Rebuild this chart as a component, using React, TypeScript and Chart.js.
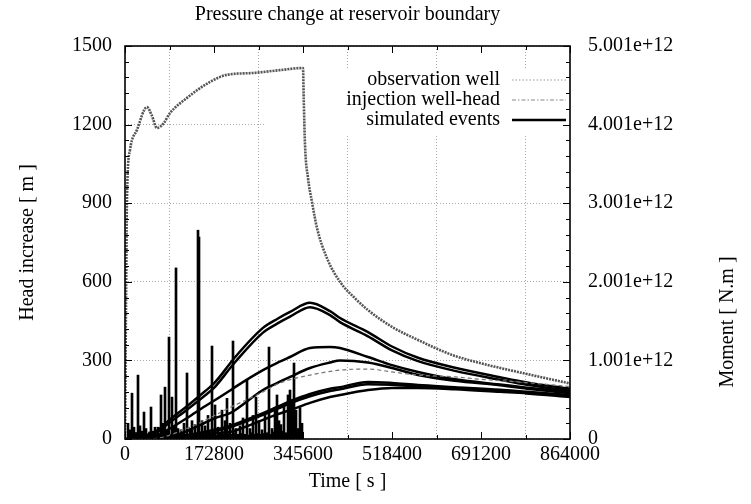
import React, { useEffect, useRef } from "react";
import { Chart, registerables } from "chart.js";

Chart.register(...registerables);

const TITLE = "Pressure change at reservoir boundary";
const X_TITLE = "Time [ s ]";
const Y_TITLE = "Head increase [ m ]";
const Y2_TITLE = "Moment [ N.m ]";

const LEGEND_OBS = "observation well";
const LEGEND_WELL = "injection well-head";
const LEGEND_EVENTS = "simulated events";

const timeTicks = [0, 172800, 345600, 518400, 691200, 864000];
const headTicks = [0, 300, 600, 900, 1200, 1500];
const momentTicks = [0, 1.001e12, 2.001e12, 3.001e12, 4.001e12, 5.001e12];
const momentTickLabels = ["0", "1.001e+12", "2.001e+12", "3.001e+12", "4.001e+12", "5.001e+12"];

// injection well-head (head, m)
const wellHeadTime = [0, 1900, 3900, 9700, 23300, 42700, 52000, 62100, 75000, 87400, 120400, 165000, 198000, 248500, 300900, 345600, 347000, 349500, 355300, 363000, 372800, 392200, 417400, 446600, 471800, 518400, 568900, 634900, 689300, 780500, 864000];
const wellHeadHead = [0, 500, 924, 1103, 1180, 1267, 1235, 1187, 1205, 1244, 1302, 1363, 1390, 1397, 1408, 1416, 1300, 1122, 996, 905, 805, 690, 600, 537, 492, 428, 378, 321, 290, 248, 212];

// observation well (head, m)
const obsWellTime = [0, 48500, 126000, 204000, 268000, 301000, 334000, 359200, 417400, 471800, 518400, 568900, 640700, 689300, 780500, 864000];
const obsWellHead = [0, 0, 45, 120, 180, 214, 233, 244, 263, 267, 256, 244, 237, 228, 215, 200];

// simulated pressure curves (head, m) sampled on a common time grid
const simTime = [0, 29100, 48500, 64100, 87400, 120400, 155300, 172800, 203900, 213600, 267900, 297000, 320400, 359200, 398000, 417400, 471800, 518400, 568900, 640700, 728100, 780500, 864000];
const simA1 = [0, 5, 18, 34, 75, 125, 182, 212, 288, 312, 424, 460, 485, 520, 488, 462, 408, 353, 310, 272, 236, 216, 192];
const simA2 = [0, 4, 14, 28, 64, 112, 166, 195, 270, 293, 406, 442, 467, 503, 473, 446, 392, 338, 297, 260, 226, 207, 184];
const simB = [0, 0, 0, 15, 40, 80, 125, 146, 185, 198, 263, 292, 313, 347, 351, 347, 313, 282, 256, 228, 208, 196, 180];
const simC = [0, 0, 0, 0, 8, 30, 62, 78, 99, 110, 187, 215, 237, 271, 292, 300, 292, 271, 244, 222, 205, 192, 175];
const simD1 = [0, 0, 3, 6, 10, 15, 28, 35, 50, 57, 99, 124, 144, 172, 192, 198, 218, 214, 206, 198, 188, 180, 168];
const simD2 = [0, 0, 2, 5, 8, 12, 24, 31, 45, 51, 92, 116, 136, 163, 183, 190, 209, 207, 200, 193, 184, 176, 165];
const simE = [0, 0, 0, 2, 5, 10, 18, 22, 27, 32, 73, 95, 110, 138, 160, 168, 187, 195, 195, 190, 180, 174, 160];

// simulated events (seismic moment, N.m)
const eventTime = [5825, 7800, 9708, 11600, 13591, 15500, 17474, 19400, 21358, 23300, 25241, 27200, 29124, 31000, 33007, 35000, 36890, 38800, 40774, 42700, 44657, 47500, 50482, 52400, 54365, 56300, 58248, 61000, 64073, 67000, 69898, 71800, 73781, 75700, 77664, 79600, 81547, 83500, 85430, 88300, 91255, 93200, 95138, 97000, 99022, 100900, 102905, 105800, 108730, 111600, 114554, 117500, 120379, 123300, 126204, 128100, 130087, 133000, 135912, 138800, 141737, 143678, 146600, 149503, 152400, 155328, 158200, 161153, 165000, 168919, 171800, 174744, 177600, 180569, 184400, 188335, 191200, 194160, 196100, 198043, 201000, 203868, 206800, 209693, 212600, 215518, 219400, 223284, 226200, 229109, 233000, 236875, 239800, 242700, 245600, 248525, 251400, 254350, 257300, 260174, 263100, 265999, 268900, 271824, 275700, 279590, 282500, 285415, 288300, 291240, 295123, 297000, 299006, 302890, 305800, 308714, 312600, 316481, 320364, 322300, 324247, 328130, 332014, 335897, 337800, 339780, 341700, 343663];
const eventMoment = [2.0e11, 6e10, 1.17e11, 4e10, 5.83e11, 7e10, 1.5e11, 5e10, 8.3e10, 4e10, 8.13e11, 6e10, 1.67e11, 5e10, 1.0e11, 4e10, 3.43e11, 7e10, 1.33e11, 5e10, 6.7e10, 9e10, 4.07e11, 6e10, 1.0e11, 4e10, 1.5e11, 7e10, 1.5e11, 5e10, 5.6e11, 8e10, 2.0e11, 6e10, 6.6e11, 5e10, 1.0e11, 7e10, 1.297e12, 6e10, 5.33e11, 8e10, 1.67e11, 5e10, 2.177e12, 6e10, 1.33e11, 5e10, 1.17e11, 7e10, 2.0e11, 6e10, 8.4e11, 5e10, 1.33e11, 4e10, 2.33e11, 7e10, 1.83e11, 6e10, 2.657e12, 2.57e12, 8e10, 2.33e11, 6e10, 1.67e11, 5e10, 3.0e11, 7e10, 1.183e12, 6e10, 4.33e11, 5e10, 1.5e11, 8e10, 3.67e11, 6e10, 2.33e11, 5e10, 5.17e11, 7e10, 2.0e11, 6e10, 1.247e12, 8e10, 1.33e11, 6e10, 1.67e11, 7e10, 2.67e11, 6e10, 7.5e11, 5e10, 1.33e11, 8e10, 3.0e11, 6e10, 5.33e11, 7e10, 2.33e11, 6e10, 1.17e11, 7e10, 3.0e11, 8e10, 1.17e12, 6e10, 1.33e11, 9e10, 4.0e11, 5.6e11, 1.2e11, 2.33e11, 1.83e11, 1.0e11, 4.33e11, 8e10, 5.6e11, 6.23e11, 1.0e11, 5.0e11, 9.67e11, 3.67e11, 1.33e11, 9e10, 4.0e11, 1.2e11, 2.0e11];

const FONT = "'Liberation Serif', 'Times New Roman', serif";
const WELL_COLOR = "#555555";
const OBS_COLOR = "#777777";

const toPoints = (xs: number[], ys: number[]) => xs.map((x, i) => ({ x, y: ys[i] }));

const simCurve = (ys: number[]) => ({
  type: "line" as const,
  data: toPoints(simTime, ys),
  borderColor: "#000",
  borderWidth: 2.5,
  pointRadius: 0,
  cubicInterpolationMode: "monotone" as const,
  fill: false,
  yAxisID: "y",
});

const gnuplotPlugin = {
  id: "gnuplotDecor",
  beforeDatasetsDraw(chart: any) {
    const { ctx, chartArea: a } = chart;
    ctx.save();
    ctx.fillStyle = "#fff";
    ctx.fillRect(a.right - 305, a.top + 22, 304, 67);
    ctx.restore();
  },
  afterDraw(chart: any) {
    const { ctx, chartArea: a, scales } = chart;
    const x = scales.x;
    const y = scales.y;
    const y1 = scales.y1;
    ctx.save();
    // ticks (inward)
    ctx.strokeStyle = "#000";
    ctx.lineWidth = 1;
    ctx.beginPath();
    for (let i = 0; i <= 10; i++) {
      const v = (864000 / 10) * i;
      const px = Math.round(x.getPixelForValue(v)) + 0.5;
      const len = i % 2 === 0 ? 7 : 4;
      ctx.moveTo(px, a.bottom);
      ctx.lineTo(px, a.bottom - len);
      ctx.moveTo(px, a.top);
      ctx.lineTo(px, a.top + len);
    }
    for (let i = 0; i <= 25; i++) {
      const py = Math.round(y.getPixelForValue(60 * i)) + 0.5;
      const len = i % 5 === 0 ? 7 : 4;
      ctx.moveTo(a.left, py);
      ctx.lineTo(a.left + len, py);
      const py2 = Math.round(y1.getPixelForValue((5.001e12 / 25) * i)) + 0.5;
      ctx.moveTo(a.right, py2);
      ctx.lineTo(a.right - len, py2);
    }
    ctx.stroke();
    // frame
    ctx.lineWidth = 1.6;
    ctx.strokeRect(a.left, a.top, a.right - a.left, a.bottom - a.top);

    // legend
    ctx.font = `20px ${FONT}`;
    ctx.fillStyle = "#000";
    ctx.textAlign = "right";
    ctx.textBaseline = "middle";
    const tx = a.right - 70;
    const sx0 = a.right - 58;
    const sx1 = a.right - 4;
    const rows = [a.top + 34, a.top + 54, a.top + 74];
    ctx.fillText(LEGEND_OBS, tx, rows[0]);
    ctx.fillText(LEGEND_WELL, tx, rows[1]);
    ctx.fillText(LEGEND_EVENTS, tx, rows[2]);
    ctx.lineWidth = 1.2;
    ctx.strokeStyle = "#9a9a9a";
    ctx.setLineDash([1.5, 2]);
    ctx.beginPath();
    ctx.moveTo(sx0, rows[0]);
    ctx.lineTo(sx1, rows[0]);
    ctx.stroke();
    ctx.strokeStyle = "#888";
    ctx.setLineDash([4, 2, 1.5, 2]);
    ctx.beginPath();
    ctx.moveTo(sx0, rows[1]);
    ctx.lineTo(sx1, rows[1]);
    ctx.stroke();
    ctx.setLineDash([]);
    ctx.strokeStyle = "#000";
    ctx.lineWidth = 2.4;
    ctx.beginPath();
    ctx.moveTo(sx0, rows[2]);
    ctx.lineTo(sx1, rows[2]);
    ctx.stroke();

    // right axis title, reading bottom-to-top
    ctx.translate(728, 322);
    ctx.rotate(-Math.PI / 2);
    ctx.textAlign = "center";
    ctx.fillText(Y2_TITLE, 0, 0);
    ctx.restore();
  },
};

export default function App() {
  const ref = useRef<HTMLCanvasElement | null>(null);

  useEffect(() => {
    if (!ref.current) return;
    Chart.defaults.font.family = FONT;
    Chart.defaults.color = "#000";
    const chart = new Chart(ref.current, {
      type: "line",
      data: {
        datasets: [
          {
            type: "line",
            label: LEGEND_WELL,
            data: toPoints(wellHeadTime, wellHeadHead),
            borderColor: WELL_COLOR,
            borderWidth: 2.6,
            borderDash: [2, 1],
            pointRadius: 0,
            cubicInterpolationMode: "monotone",
            fill: false,
            yAxisID: "y",
          },
          {
            type: "line",
            label: LEGEND_OBS,
            data: toPoints(obsWellTime, obsWellHead),
            borderColor: OBS_COLOR,
            borderWidth: 1.2,
            borderDash: [4, 3],
            pointRadius: 0,
            cubicInterpolationMode: "monotone",
            fill: false,
            yAxisID: "y",
          },
          simCurve(simA1),
          simCurve(simA2),
          simCurve(simB),
          simCurve(simC),
          simCurve(simD1),
          simCurve(simD2),
          simCurve(simE),
          {
            type: "bar",
            label: LEGEND_EVENTS,
            data: toPoints(eventTime, eventMoment),
            backgroundColor: "#000",
            borderWidth: 0,
            barThickness: 2,
            yAxisID: "y1",
          },
        ] as any,
      },
      options: {
        responsive: false,
        animation: false,
        devicePixelRatio: 1,
        layout: { padding: 0 },
        plugins: {
          legend: { display: false },
          tooltip: { enabled: false },
          title: {
            display: true,
            text: TITLE,
            fullSize: false,
            color: "#000",
            font: { size: 20, family: FONT, weight: "normal" },
            padding: { top: 3, bottom: 19 },
          },
        },
        scales: {
          x: {
            type: "linear",
            min: 0,
            max: 864000,
            offset: false,
            afterBuildTicks: (s: any) => {
              s.ticks = timeTicks.map((v) => ({ value: v }));
            },
            afterFit: (s: any) => {
              s.height = 65;
            },
            ticks: {
              callback: (v: any) => String(v),
              font: { size: 20, family: FONT },
              color: "#000",
              padding: 4,
              maxRotation: 0,
              autoSkip: false,
            },
            grid: { color: "#a8a8a8", lineWidth: 1, drawTicks: false, tickLength: 0 },
            border: { display: false, dash: [1, 2] },
            title: {
              display: true,
              text: X_TITLE,
              font: { size: 20, family: FONT },
              color: "#000",
              padding: { top: 0, bottom: 10 },
            },
          },
          y: {
            type: "linear",
            position: "left",
            min: 0,
            max: 1500,
            afterBuildTicks: (s: any) => {
              s.ticks = headTicks.map((v) => ({ value: v }));
            },
            afterFit: (s: any) => {
              s.width = 125;
            },
            ticks: {
              callback: (v: any) => String(v),
              font: { size: 20, family: FONT },
              color: "#000",
              padding: 13,
            },
            grid: { color: "#a8a8a8", lineWidth: 1, drawTicks: false, tickLength: 0 },
            border: { display: false, dash: [1, 2] },
            title: {
              display: true,
              text: Y_TITLE,
              font: { size: 20, family: FONT },
              color: "#000",
              padding: { top: 16, bottom: 0 },
            },
          },
          y1: {
            type: "linear",
            position: "right",
            min: 0,
            max: 5.001e12,
            afterBuildTicks: (s: any) => {
              s.ticks = momentTicks.map((v) => ({ value: v }));
            },
            afterFit: (s: any) => {
              s.width = 181;
            },
            ticks: {
              callback: (_v: any, i: number) => momentTickLabels[i],
              font: { size: 20, family: FONT },
              color: "#000",
              padding: 18,
            },
            grid: { display: false, drawTicks: false, tickLength: 0 },
            border: { display: false },
          },
        },
      } as any,
      plugins: [gnuplotPlugin],
    });
    return () => chart.destroy();
  }, []);

  return (
    <div style={{ position: "fixed", left: 0, top: 0, width: 751, height: 504, background: "#fff" }}>
      <canvas ref={ref} width={751} height={504} style={{ width: 751, height: 504, display: "block" }} />
    </div>
  );
}
